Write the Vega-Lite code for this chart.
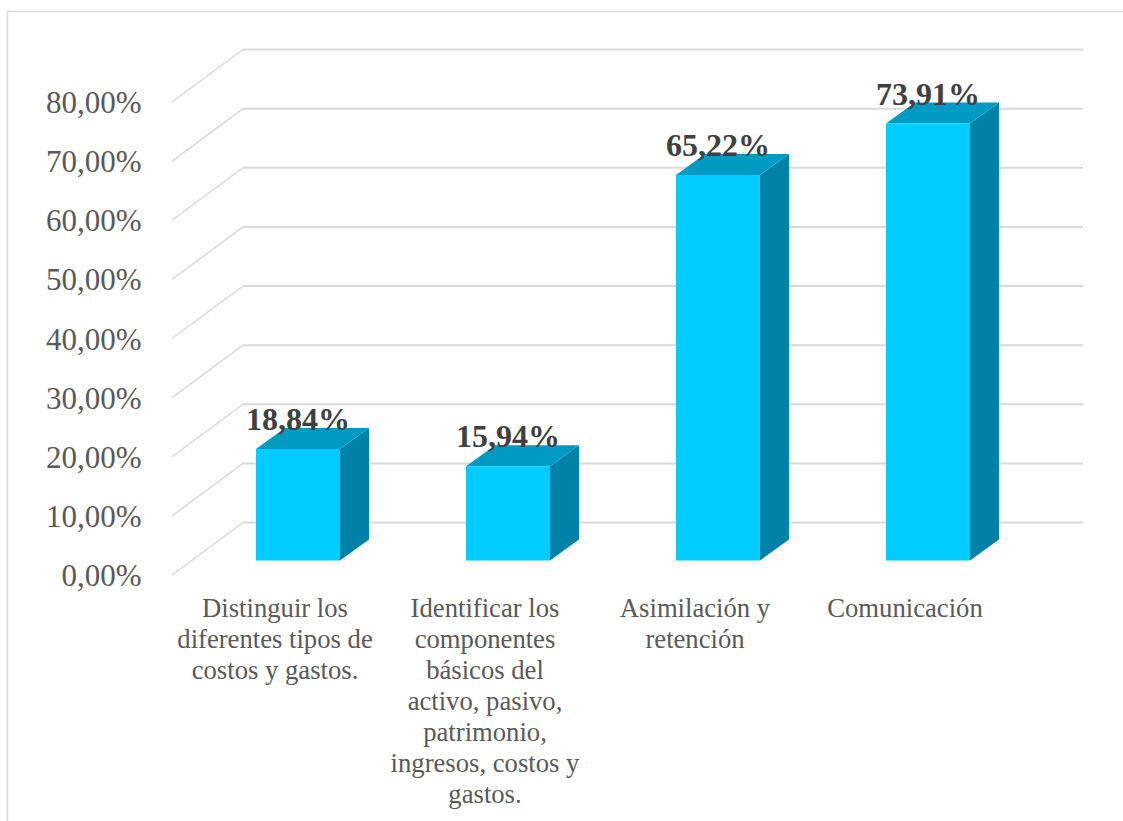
{
  "$schema": "https://vega.github.io/schema/vega-lite/v6.json",
  "width": 840,
  "height": 473,
  "padding": {"left": 193, "top": 87.5, "right": 90, "bottom": 260.5},
  "autosize": "none",
  "background": "white",
  "config": {
    "view": {"stroke": null},
    "locale": {"number": {"decimal": ",", "thousands": ".", "grouping": [3], "currency": ["", "€"]}}
  },
  "datasets": {
    "barras": [
      {"categoria": "Distinguir los\ndiferentes tipos de\ncostos y gastos.", "frente": 0.1884, "fondo": 0.1884},
      {"categoria": "Identificar los\ncomponentes\nbásicos del\nactivo, pasivo,\npatrimonio,\ningresos, costos y\ngastos.", "frente": 0.1594, "fondo": 0.1594},
      {"categoria": "Asimilación y\nretención", "frente": 0.6522, "fondo": 0.6522},
      {"categoria": "Comunicación", "frente": 0.7391, "fondo": 0.7391}
    ],
    "niveles": [
      {"nivel": 0}, {"nivel": 0.1}, {"nivel": 0.2}, {"nivel": 0.3}, {"nivel": 0.4},
      {"nivel": 0.5}, {"nivel": 0.6}, {"nivel": 0.7}, {"nivel": 0.8}
    ]
  },
  "layer": [
    {
      "data": {"values": [{}]},
      "mark": {"type": "rect", "fill": null, "stroke": "#d9d9d9", "strokeWidth": 1.5},
      "encoding": {
        "x": {"value": -185.5},
        "x2": {"value": 960},
        "y": {"value": -76},
        "y2": {"value": 760}
      }
    },
    {
      "data": {"name": "niveles"},
      "mark": {"type": "rule", "color": "#d9d9d9", "strokeWidth": 2, "xOffset": 50, "x2Offset": 50, "yOffset": -38},
      "encoding": {
        "x": {"value": 0},
        "x2": {"value": "width"},
        "y": {
          "field": "nivel", "type": "quantitative",
          "scale": {"domain": [0, 0.8], "nice": false},
          "axis": {
            "values": [0, 0.1, 0.2, 0.3, 0.4, 0.5, 0.6, 0.7, 0.8],
            "format": ".2%", "title": null, "domain": false, "ticks": false, "grid": false,
            "labelFont": "Liberation Serif", "labelFontSize": 31, "labelColor": "#595959",
            "labelPadding": 52, "labelOffset": 16, "labelBaseline": "middle"
          }
        }
      }
    },
    {
      "data": {"name": "niveles"},
      "mark": {"type": "rule", "color": "#d9d9d9", "strokeWidth": 1.5, "xOffset": -21, "x2Offset": 50, "yOffset": 14.5, "y2Offset": -38},
      "encoding": {
        "x": {"value": 0},
        "x2": {"value": 0},
        "y": {"field": "nivel", "type": "quantitative"},
        "y2": {"field": "nivel"}
      }
    },
    {
      "data": {"name": "barras"},
      "transform": [{"fold": ["frente", "fondo"], "as": ["cara", "valor"]}],
      "mark": {
        "type": "area", "color": "#0081a7",
        "xOffset": {"expr": "datum.cara === 'fondo' ? 71 : 42"},
        "yOffset": {"expr": "datum.cara === 'fondo' ? -21 : 0"},
        "y2Offset": {"expr": "datum.cara === 'fondo' ? -21 : 0"}
      },
      "encoding": {
        "x": {
          "field": "categoria", "type": "nominal", "sort": null,
          "scale": {"paddingInner": 0.6, "paddingOuter": 0.3},
          "axis": {
            "title": null, "domain": false, "ticks": false, "labelAngle": 0, "labelLimit": 0,
            "labelFont": "Liberation Serif", "labelFontSize": 26.67, "labelColor": "#595959",
            "labelOffset": -23, "labelPadding": 35, "labelLineHeight": 31, "labelBaseline": "top",
            "labelExpr": "split(datum.label, '\\n')"
          }
        },
        "y": {"field": "valor", "type": "quantitative"},
        "y2": {"datum": 0},
        "detail": {"field": "categoria"}
      }
    },
    {
      "data": {"name": "barras"},
      "transform": [{"fold": ["frente", "fondo"], "as": ["cara", "valor"]}],
      "mark": {
        "type": "area", "orient": "horizontal", "color": "#009ac3",
        "xOffset": {"expr": "datum.cara === 'fondo' ? -13 : -42"},
        "x2Offset": {"expr": "datum.cara === 'fondo' ? 71 : 42"},
        "yOffset": {"expr": "datum.cara === 'fondo' ? -21 : 0"}
      },
      "encoding": {
        "x": {"field": "categoria", "type": "nominal", "sort": null},
        "x2": {"field": "categoria"},
        "y": {"field": "valor", "type": "quantitative", "stack": null},
        "detail": {"field": "categoria"}
      }
    },
    {
      "data": {"name": "barras"},
      "mark": {"type": "bar", "color": "#00ccff"},
      "encoding": {
        "x": {"field": "categoria", "type": "nominal", "sort": null},
        "y": {"field": "frente", "type": "quantitative"}
      }
    },
    {
      "data": {"name": "barras"},
      "mark": {"type": "text", "font": "Liberation Serif", "fontWeight": "bold", "fontSize": 32, "color": "#404040", "dy": -29},
      "encoding": {
        "x": {"field": "categoria", "type": "nominal", "sort": null},
        "y": {"field": "frente", "type": "quantitative"},
        "text": {"field": "frente", "type": "quantitative", "format": ".2%"}
      }
    }
  ]
}
